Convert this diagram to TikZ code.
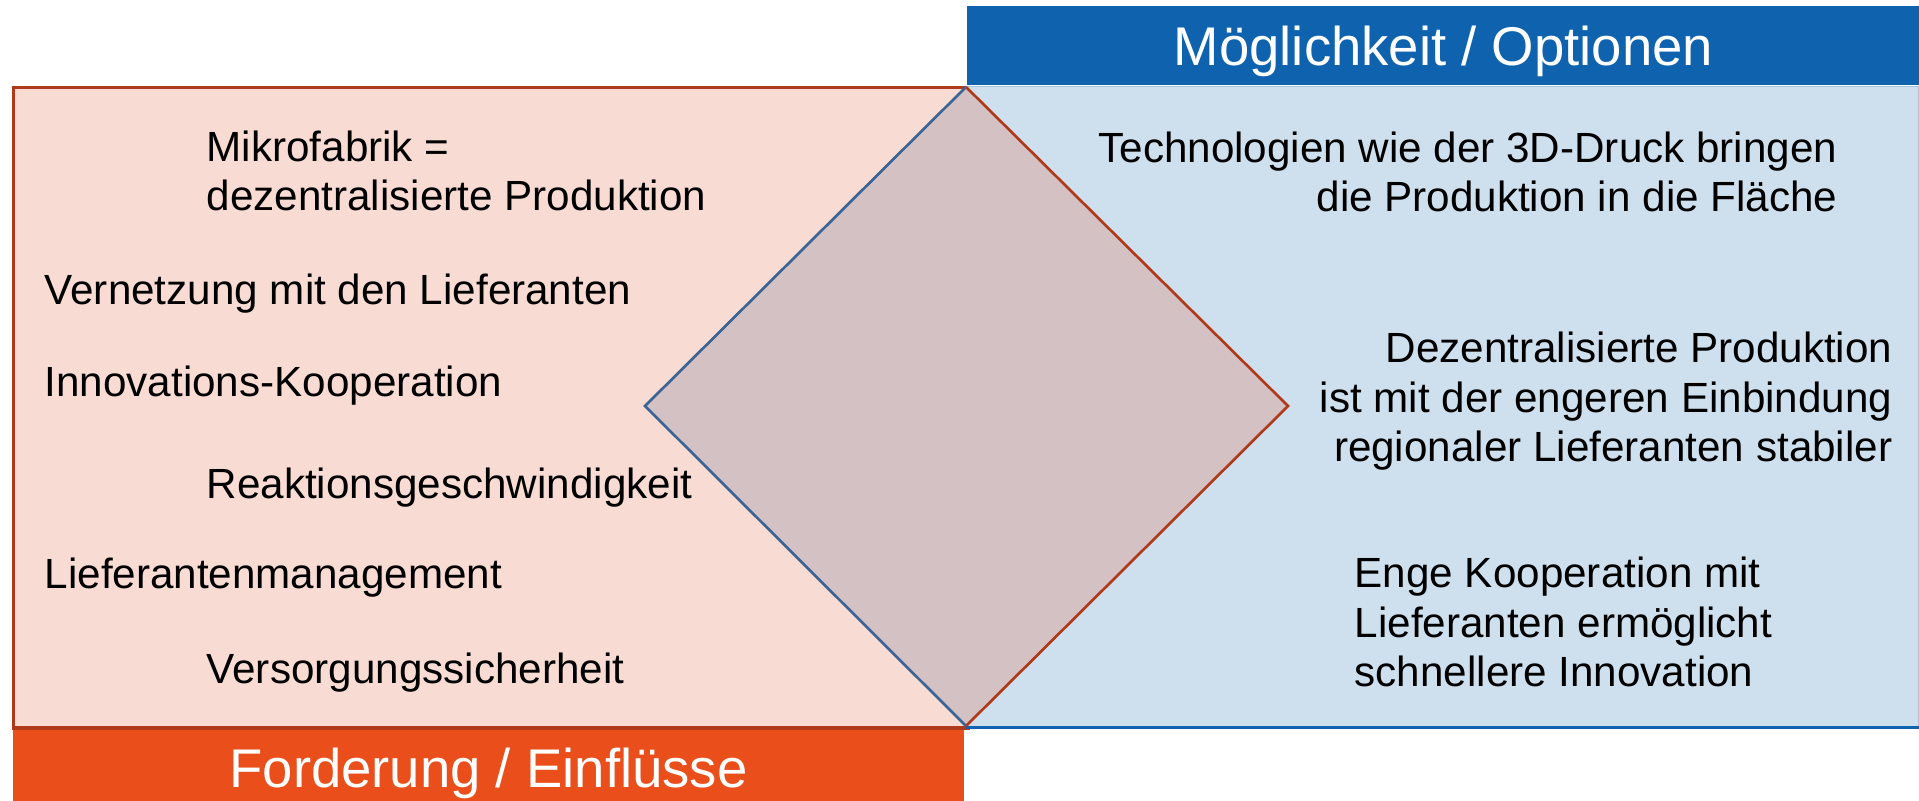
\documentclass[tikz,border=0pt]{standalone}
\usepackage{fontspec}
\setmainfont{Liberation Sans}
\usetikzlibrary{positioning}

\definecolor{headblue}{HTML}{0F63AE}
\definecolor{paleblue}{HTML}{CEDFED}
\definecolor{rimblue}{HTML}{A3C2DE}
\definecolor{headorange}{HTML}{E94E1B}
\definecolor{palered}{HTML}{F8DBD2}
\definecolor{rimred}{HTML}{B0391A}
\definecolor{rhombfill}{HTML}{D3C1C3}
\definecolor{rhombblue}{HTML}{3A6496}

\begin{document}
\begin{tikzpicture}[x=0.01cm, y=-0.01cm,
    box node/.style={rectangle, minimum height=6.4cm, anchor=north west, inner sep=0pt},
    head node/.style={rectangle, inner sep=0pt, text=white, text depth=0pt, font=\fontsize{15.5}{18}\selectfont},
    text node/.style={inner sep=0pt, font=\fontsize{12}{14.2}\selectfont}]

    \useasboundingbox (0,0) rectangle (1919,801);

    % Felder
    \node[box node, draw=rimred, line width=0.9pt, fill=palered, minimum width=9.54cm] (links) at (12,86) {};
    \node[box node, draw=rimblue, line width=0.4pt, fill=paleblue, minimum width=9.51cm] (rechts) at (966,86) {};
    \draw[headblue, line width=0.9pt] (rechts.south west) -- (rechts.south east);

    % Raute
    \coordinate (dl) at (645,406);
    \coordinate (dr) at (1288,406);
    \coordinate (dt) at (966,87);
    \coordinate (db) at (966,726);
    \fill[rhombfill] (dt) -- (dl) -- (db) -- (dr) -- cycle;
    \draw[rhombblue, line width=0.75pt] (dt) -- (dl) -- (db);
    \draw[rimred, line width=0.75pt] (dt) -- (dr) -- (db);

    % Titel
    \node[head node, fill=headblue, minimum width=9.53cm, minimum height=0.79cm] (moeg) [above right=0pt and 0pt of rechts.north west] {Möglichkeit / Optionen};
    \node[head node, fill=headorange, minimum width=9.51cm, minimum height=0.74cm] (ford) [below right=0pt and 0pt of links.south west] {Forderung / Einflüsse};

    % Forderungen
    \node[text node, anchor=base west, align=left] (mikro) at (206,211) {Mikrofabrik =\\dezentralisierte Produktion};
    \node[text node, anchor=base west] (vernetz) at (44,305) {Vernetzung mit den Lieferanten};
    \node[text node, anchor=base west] (innov) at (44,397) {Innovations-Kooperation};
    \node[text node, anchor=base west] (reakt) at (206,499) {Reaktionsgeschwindigkeit};
    \node[text node, anchor=base west] (liefmgmt) at (44,589) {Lieferantenmanagement};
    \node[text node, anchor=base west] (versorg) at (206,683) {Versorgungssicherheit};

    % Optionen
    \node[text node, anchor=base east, align=right] (techno) at (1838,212) {Technologien wie der 3D-Druck bringen\\die Produktion in die Fläche};
    \node[text node, anchor=base east, align=right] (dezent) at (1893,462) {Dezentralisierte Produktion\\ist mit der engeren Einbindung\\regionaler Lieferanten stabiler};
    \node[text node, anchor=base west, align=left] (enge) at (1354,687) {Enge Kooperation mit\\Lieferanten ermöglicht\\schnellere Innovation};
\end{tikzpicture}
\end{document}
